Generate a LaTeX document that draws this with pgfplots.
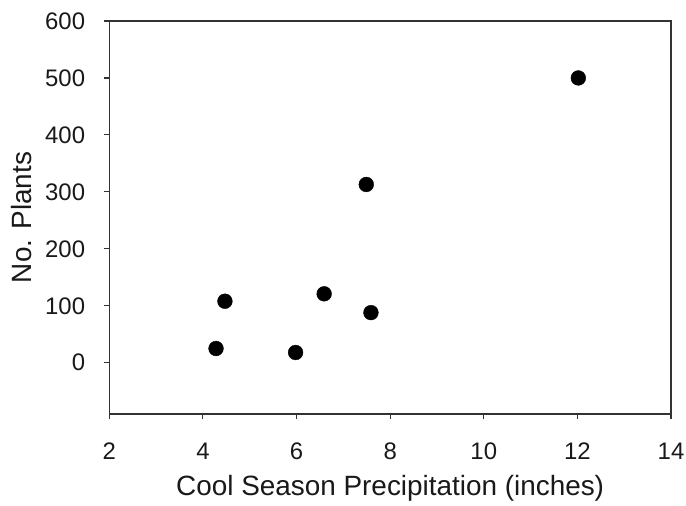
\documentclass[border=0pt]{standalone}
\usepackage{pgfplots}
\pgfplotsset{compat=1.18}
\usepackage{fontspec}
\setmainfont{Liberation Sans}
\begin{document}
\begin{tikzpicture}
\begin{axis}[
    scale only axis,
    width=561.7bp,
    height=393bp,
    xmin=2, xmax=14,
    ymin=-90, ymax=600,
    xtick={2,4,...,14},
    ytick={0,100,...,600},
    tick align=outside,
    tick pos=left,
    major tick length=5bp,
    axis line style={line width=1.1bp, black!80},
    every tick/.style={line width=1.1bp, black!80},
    /pgf/number format/assume math mode=true,
    ticklabel style={font=\fontsize{24}{28}\selectfont, black!90, inner sep=0pt},
    xticklabel style={anchor=north, yshift=-24bp},
    yticklabel style={anchor=east, xshift=-19bp},
    label style={font=\fontsize{28}{32}\selectfont, black!90, inner sep=0pt},
    xlabel={Cool Season Precipitation (inches)},
    ylabel={No. Plants},
    xlabel style={at={([yshift=-81bp]axis description cs:0.5,0)}, anchor=base},
    ylabel style={at={([xshift=-77.3bp]axis description cs:0,0.5)}, anchor=base},
]
\addplot[only marks, mark=*, mark size=7.4bp, black] coordinates {
    (4.28,25) (4.47,108) (5.98,18) (6.59,121) (7.49,313) (7.59,88) (12.02,500)
};
\end{axis}
\pgfresetboundingbox
\path (current axis.south west) ++(-109.3bp,-92bp) coordinate (a);
\path (current axis.north east) ++(15bp,21bp) coordinate (b);
\useasboundingbox (a) rectangle (b);
\end{tikzpicture}
\end{document}
